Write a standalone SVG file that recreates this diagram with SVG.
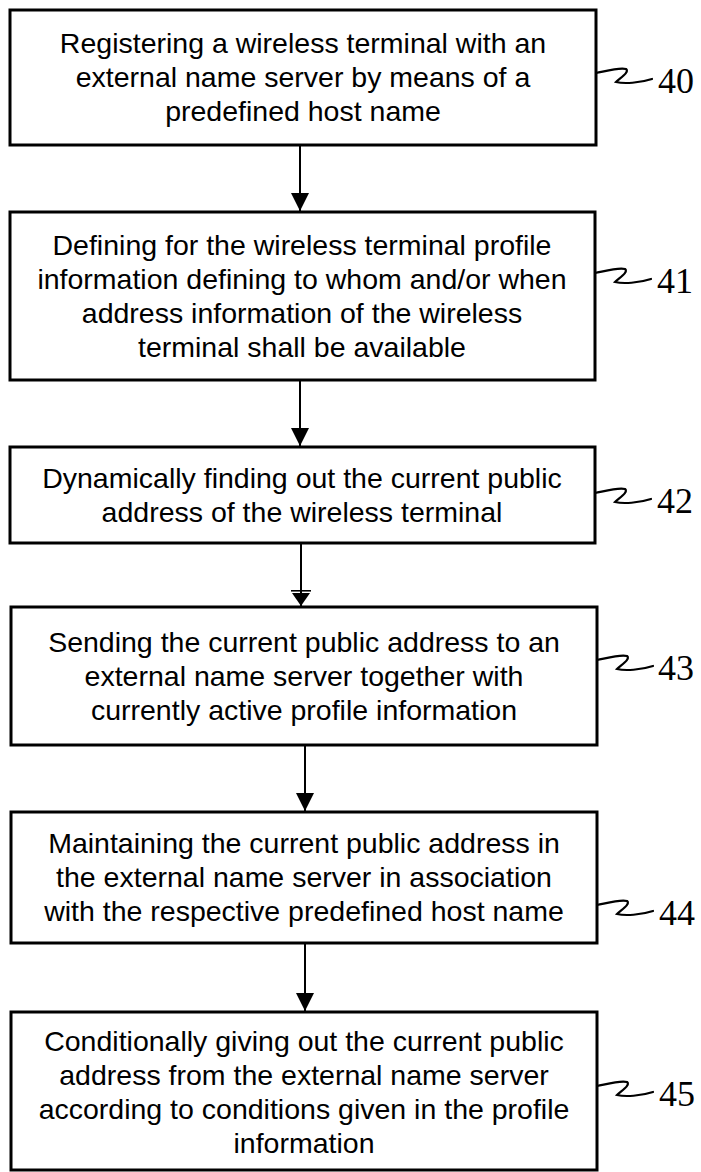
<svg xmlns="http://www.w3.org/2000/svg" width="701" height="1172" viewBox="0 0 701 1172">
<style>
.box{fill:#fff;stroke:#000;stroke-width:3}
.t{font-family:"Liberation Sans",Arial,sans-serif;font-size:28.5px;fill:#000;text-anchor:middle}
.lbl{font-family:"Liberation Serif","Times New Roman",serif;font-size:36px;fill:#000}
.sq{fill:none;stroke:#000;stroke-width:2.2;stroke-linecap:round}
.conn{fill:none;stroke:#000;stroke-width:2}
</style>
<defs>
<marker id="arr" viewBox="0 0 10 10" refX="10" refY="5" markerWidth="18" markerHeight="18" markerUnits="userSpaceOnUse" orient="auto">
<path d="M0,0 L10,5 L0,10 z" fill="#000"/>
</marker>
<marker id="arr2" viewBox="0 0 16 20" refX="16" refY="10" markerWidth="16" markerHeight="20" markerUnits="userSpaceOnUse" orient="auto">
<path d="M3,1 L16,10 L3,19 z" fill="#000"/>
<rect x="0" y="0" width="1.6" height="20" fill="#000"/>
</marker>
</defs>
<rect width="701" height="1172" fill="#fff"/>
<g id="connectors">
<line class="conn" x1="300" y1="145" x2="300" y2="211" marker-end="url(#arr)"/>
<line class="conn" x1="300" y1="380" x2="300" y2="446" marker-end="url(#arr)"/>
<line class="conn" x1="301" y1="543" x2="301" y2="606" marker-end="url(#arr2)"/>
<line class="conn" x1="305" y1="745" x2="305" y2="811" marker-end="url(#arr)"/>
<line class="conn" x1="305" y1="943" x2="305" y2="1011" marker-end="url(#arr)"/>
</g>
<g id="n40">
<rect class="box" x="10" y="10" width="586" height="135"/>
<text class="t" x="303" y="53">Registering a wireless terminal with an</text>
<text class="t" x="303" y="87">external name server by means of a</text>
<text class="t" x="303" y="121">predefined host name</text>
<path class="sq" d="M596,73 C606,71 620,67 626,69 C630,72 620,78 616,82 C624,84 640,83 652,79"/>
<text class="lbl" x="658" y="93">40</text>
</g>
<g id="n41">
<rect class="box" x="10" y="212" width="585" height="168"/>
<text class="t" x="302" y="255">Defining for the wireless terminal profile</text>
<text class="t" x="302" y="289">information defining to whom and/or when</text>
<text class="t" x="302" y="323">address information of the wireless</text>
<text class="t" x="302" y="357">terminal shall be available</text>
<path class="sq" d="M595,273 C605,271 619,267 625,269 C629,272 619,278 615,282 C623,284 639,283 651,279"/>
<text class="lbl" x="657" y="293">41</text>
</g>
<g id="n42">
<rect class="box" x="10" y="447" width="585" height="96"/>
<text class="t" x="302" y="488">Dynamically finding out the current public</text>
<text class="t" x="302" y="522">address of the wireless terminal</text>
<path class="sq" d="M595,493 C605,491 619,487 625,489 C629,492 619,498 615,502 C623,504 639,503 651,499"/>
<text class="lbl" x="657" y="513">42</text>
</g>
<g id="n43">
<rect class="box" x="11" y="607" width="586" height="138"/>
<text class="t" x="304" y="652">Sending the current public address to an</text>
<text class="t" x="304" y="686">external name server together with</text>
<text class="t" x="304" y="720">currently active profile information</text>
<path class="sq" d="M597,660 C607,658 621,654 627,656 C631,659 621,665 617,669 C625,671 641,670 653,666"/>
<text class="lbl" x="658" y="680">43</text>
</g>
<g id="n44">
<rect class="box" x="11" y="812" width="586" height="131"/>
<text class="t" x="304" y="853">Maintaining the current public address in</text>
<text class="t" x="304" y="887">the external name server in association</text>
<text class="t" x="304" y="921">with the respective predefined host name</text>
<path class="sq" d="M597,905 C607,903 621,899 627,901 C631,904 621,910 617,914 C625,916 641,915 653,911"/>
<text class="lbl" x="659" y="925">44</text>
</g>
<g id="n45">
<rect class="box" x="11" y="1012" width="586" height="158"/>
<text class="t" x="304" y="1051">Conditionally giving out the current public</text>
<text class="t" x="304" y="1085">address from the external name server</text>
<text class="t" x="304" y="1119">according to conditions given in the profile</text>
<text class="t" x="304" y="1153">information</text>
<path class="sq" d="M597,1086 C607,1084 621,1080 627,1082 C631,1085 621,1091 617,1095 C625,1097 641,1096 653,1092"/>
<text class="lbl" x="659" y="1106">45</text>
</g>
</svg>
